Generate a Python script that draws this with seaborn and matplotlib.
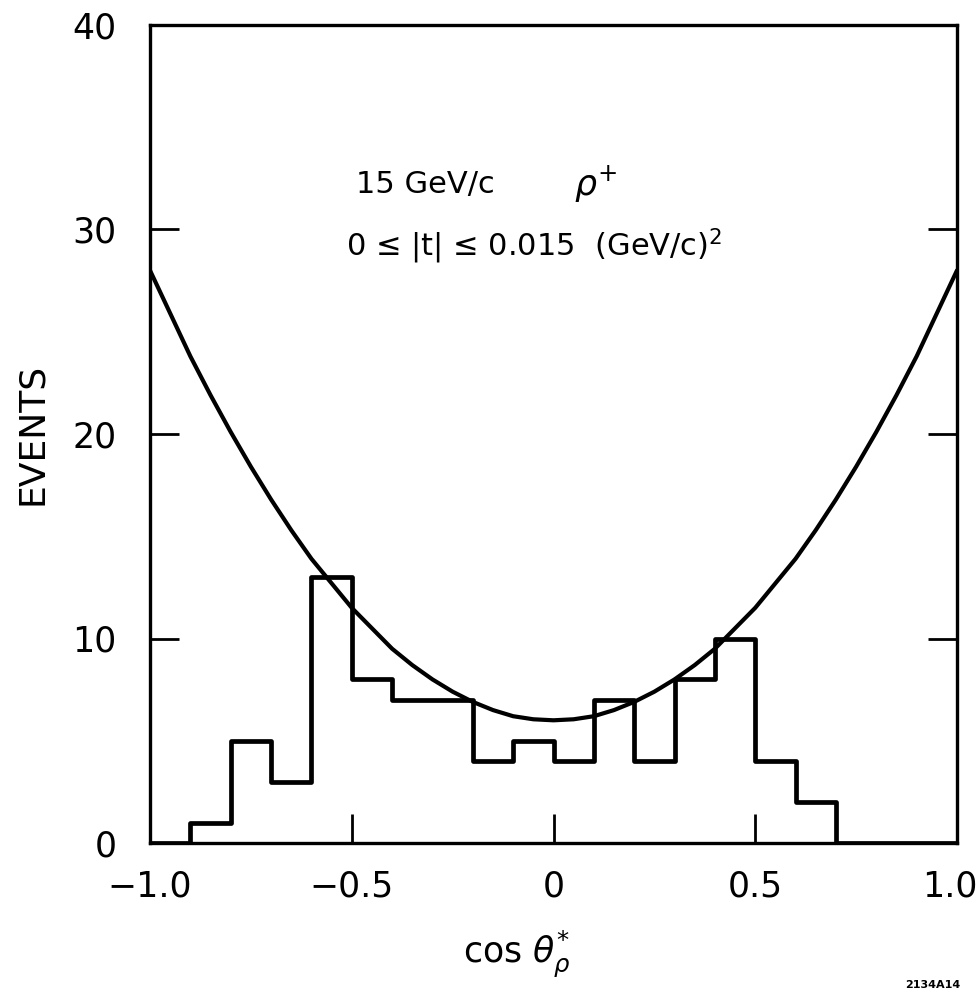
import numpy as np
import pandas as pd
import matplotlib
matplotlib.use("Agg")
import matplotlib.pyplot as plt
import matplotlib.transforms as mtransforms
import seaborn as sns

# Histogram data (bin edges width 0.1)
bin_edges = [-1.0, -0.9, -0.8, -0.7, -0.6, -0.5, -0.4, -0.3, -0.2, -0.1, 0.0,
             0.1, 0.2, 0.3, 0.4, 0.5, 0.6, 0.7, 0.8, 0.9, 1.0]
counts = [0, 1, 5, 3, 13, 8, 7, 7, 4, 5, 4, 7, 4, 8, 10, 4, 2, 0, 0, 0]

# Fitted curve, values
curve_x = [-1.00, -0.95, -0.90, -0.85, -0.80, -0.75, -0.70, -0.65, -0.60, -0.55,
           -0.50, -0.45, -0.40, -0.35, -0.30, -0.25, -0.20, -0.15, -0.10, -0.05,
           0.00, 0.05, 0.10, 0.15, 0.20, 0.25, 0.30, 0.35, 0.40, 0.45,
           0.50, 0.55, 0.60, 0.65, 0.70, 0.75, 0.80, 0.85, 0.90, 0.95, 1.00]
curve_y = [28.0, 25.9, 23.8, 21.9, 20.1, 18.4, 16.8, 15.3, 13.9, 12.7,
           11.5, 10.5, 9.5, 8.7, 8.0, 7.4, 6.9, 6.5, 6.2, 6.05,
           6.0, 6.05, 6.2, 6.5, 6.9, 7.4, 8.0, 8.7, 9.5, 10.5,
           11.5, 12.7, 13.9, 15.3, 16.8, 18.4, 20.1, 21.9, 23.8, 25.9, 28.0]

xticks = [-1.0, -0.5, 0.0, 0.5, 1.0]
xtick_labels = ["\u22121.0", "\u22120.5", "0", "0.5", "1.0"]
yticks = [0, 10, 20, 30, 40]
ytick_labels = ["0", "10", "20", "30", "40"]

sns.set_style("white")
plt.rcParams['font.family'] = ['DejaVu Sans']
plt.rcParams['mathtext.fontset'] = 'dejavusans'
plt.rcParams['text.color'] = 'black'
plt.rcParams['axes.labelcolor'] = 'black'

fig = plt.figure(figsize=(9.79, 9.98), dpi=100)
ax = fig.add_axes([150/979, 1-843/998, (957-150)/979, (843-25)/998])

centers = [(bin_edges[i] + bin_edges[i+1]) / 2 for i in range(len(counts))]
hist_df = pd.DataFrame({"x": centers, "w": counts})
sns.histplot(data=hist_df, x="x", weights="w", bins=bin_edges, element="step",
             fill=False, color="black", linewidth=3.4, ax=ax)

curve_df = pd.DataFrame({"x": curve_x, "y": curve_y})
sns.lineplot(data=curve_df, x="x", y="y", color="black", linewidth=3.0, ax=ax)

ax.set_xlim(-1.0, 1.0)
ax.set_ylim(0, 40)
ax.set_xticks(xticks)
ax.set_xticklabels(xtick_labels)
ax.set_yticks(yticks)
ax.set_yticklabels(ytick_labels)
ax.tick_params(axis="both", direction="in", length=21, width=2, labelsize=25,
               colors="black")
ax.tick_params(axis="y", right=True, left=True, pad=24)
ax.tick_params(axis="x", bottom=True, top=False, pad=19)
for s in ax.spines.values():
    s.set_linewidth(2.4)
    s.set_color("black")
    s.set_visible(True)

# nudge the last x tick label so it stays inside the figure
last = ax.get_xticklabels()[-1]
last.set_transform(last.get_transform() +
                   mtransforms.ScaledTranslation(-0.07, 0, fig.dpi_scale_trans))

ax.set_xlabel(r"cos $\theta_\rho^{*}$", fontsize=25)
ax.xaxis.set_label_coords(0.455, -0.105)
ax.set_ylabel("EVENTS", fontsize=26)
ax.yaxis.set_label_coords(-0.125, 0.5)

ax.text(-0.49, 32.2, "15 GeV/c", fontsize=22, ha="left", va="center")
ax.text(0.05, 32.2, r"$\rho^{+}$", fontsize=25, ha="left", va="center")
ax.text(-0.515, 29.2, "0 \u2264 |t| \u2264 0.015  (GeV/c)$^2$", fontsize=22,
        ha="left", va="center")

fig.text(960/979, 1-985/998, "2134A14", fontsize=8, fontweight="bold",
         ha="right", va="center")

fig.savefig("out.png", dpi=100, facecolor="white")
